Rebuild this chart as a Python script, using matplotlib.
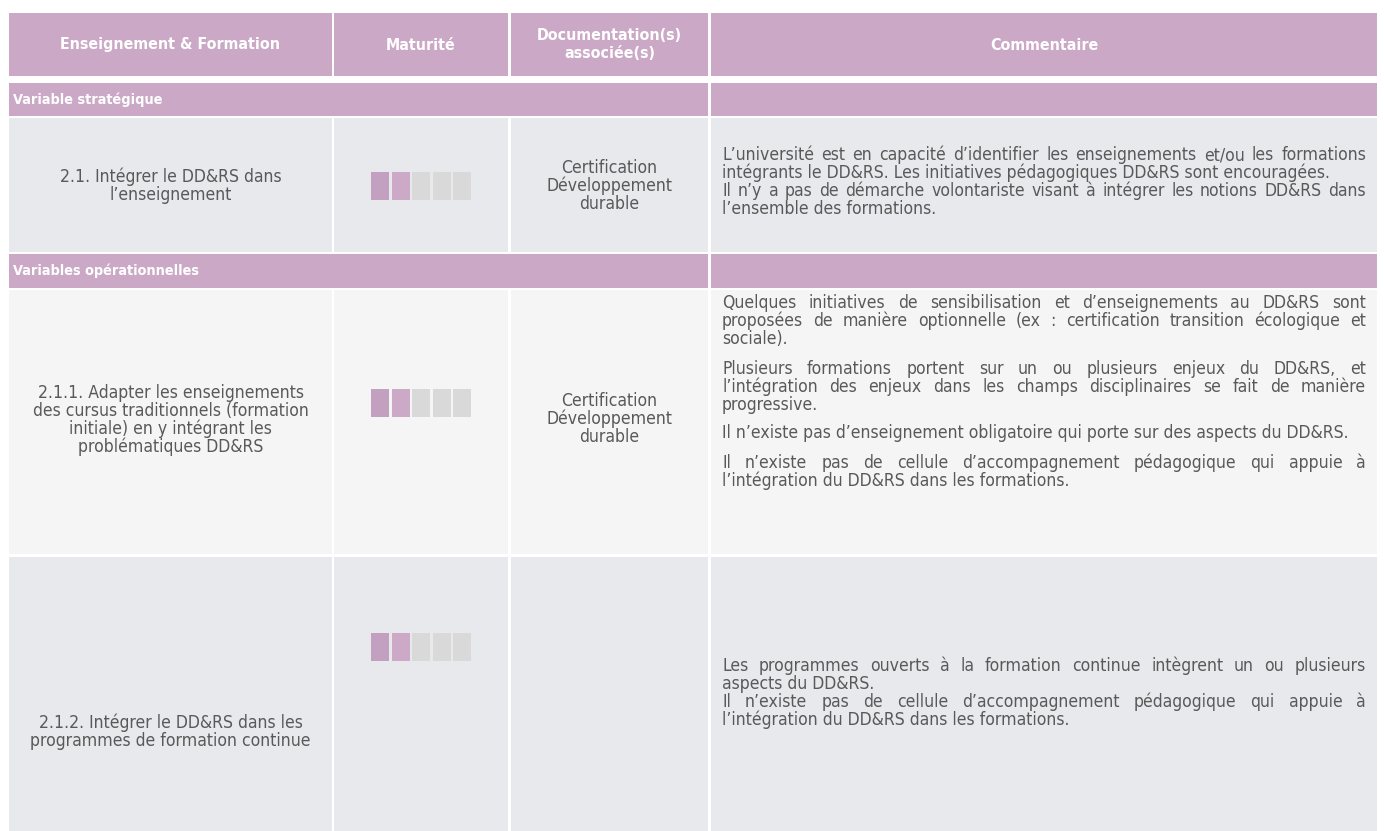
import matplotlib
matplotlib.use("Agg")
import matplotlib.pyplot as plt
from matplotlib.patches import Rectangle

# --- data ---
headers = ["Enseignement & Formation", "Maturité", "Documentation(s)\nassociée(s)", "Commentaire"]
sections = ["Variable stratégique", "Variables opérationnelles"]
criteria = [
    "2.1. Intégrer le DD&RS dans\nl’enseignement",
    "2.1.1. Adapter les enseignements\ndes cursus traditionnels (formation\ninitiale) en y intégrant les\nproblématiques DD&RS",
    "2.1.2. Intégrer le DD&RS dans les\nprogrammes de formation continue",
]
maturity = [2, 2, 2]
max_level = 5
docs = [
    "Certification\nDéveloppement\ndurable",
    "Certification\nDéveloppement\ndurable",
    "",
]
comments = [
    [["L’université est en capacité d’identifier les enseignements et/ou les formations",
      "intégrants le DD&RS. Les initiatives pédagogiques DD&RS sont encouragées."],
     ["Il n’y a pas de démarche volontariste visant à intégrer les notions DD&RS dans",
      "l’ensemble des formations."]],
    [["Quelques initiatives de sensibilisation et d’enseignements au DD&RS sont",
      "proposées de manière optionnelle (ex : certification transition écologique et",
      "sociale)."],
     ["Plusieurs formations portent sur un ou plusieurs enjeux du DD&RS, et",
      "l’intégration des enjeux dans les champs disciplinaires se fait de manière",
      "progressive."],
     ["Il n’existe pas d’enseignement obligatoire qui porte sur des aspects du DD&RS."],
     ["Il n’existe pas de cellule d’accompagnement pédagogique qui appuie à",
      "l’intégration du DD&RS dans les formations."]],
    [["Les programmes ouverts à la formation continue intègrent un ou plusieurs",
      "aspects du DD&RS."],
     ["Il n’existe pas de cellule d’accompagnement pédagogique qui appuie à",
      "l’intégration du DD&RS dans les formations."]],
]

# --- layout (pixels) ---
W, H = 1384, 831
cols = [(9, 332), (334, 508), (511, 708), (711, 1377)]
head_y = (13, 76)
sec_y = [(83, 116), (254, 288)]
row_y = [(118, 252), (290, 554), (557, 831)]
row_bg = ["#e8e9ed", "#f5f5f5", "#e8e9ed"]
sq_top = [172, 389, 633]
crit_center = [185, 419, 731]
doc_center = [185, 418, 0]
com_center = [181, 391, 692]
para_gap = [0, 11, 0]
purple = "#cba9c6"
txt = "#595959"
on_cols = ["#c4a0c0", "#cca9c6"]
off_col = "#d9d9d9"

FONT = "DejaVu Sans"
STRETCH = "condensed"
fs = 12.6
fs_head = 11.4
fs_sec = 10.4
lh = 18
base = 6

fig = plt.figure(figsize=(W / 100, H / 100), dpi=100)
ax = fig.add_axes([0, 0, 1, 1])
ax.set_xlim(0, W)
ax.set_ylim(H, 0)
ax.axis("off")


def cell(x0, x1, y0, y1, color):
    ax.add_patch(Rectangle((x0, y0), x1 - x0, y1 - y0, facecolor=color, edgecolor="none"))


def block(text, xc, yc, **kw):
    lines = text.split("\n")
    y = yc - (len(lines) - 1) * lh / 2
    for ln in lines:
        ax.text(xc, y + base, ln, ha="center", va="baseline", family=FONT,
                fontstretch=STRETCH, **kw)
        y += lh


# header
for (x0, x1), h in zip(cols, headers):
    cell(x0, x1, head_y[0], head_y[1], purple)
    block(h, (x0 + x1) / 2, sum(head_y) / 2 - 1, color="white", fontsize=fs_head,
          fontweight="bold")

# section rows
for (y0, y1), s in zip(sec_y, sections):
    cell(cols[0][0], cols[2][1], y0, y1, purple)
    cell(cols[3][0], cols[3][1], y0, y1, purple)
    ax.text(cols[0][0] + 4, (y0 + y1) / 2, s, ha="left", va="center", color="white",
            fontsize=fs_sec, fontweight="bold", family=FONT, fontstretch=STRETCH)

fig.canvas.draw()
renderer = fig.canvas.get_renderer()


def word_width(w):
    t = ax.text(0, 0, w, fontsize=fs, family=FONT, fontstretch=STRETCH)
    bb = t.get_window_extent(renderer)
    t.remove()
    return bb.width


def draw_line(line, x0, x1, y, justify):
    kw = dict(fontsize=fs, family=FONT, fontstretch=STRETCH, color=txt, va="baseline", ha="left")
    yb = y + base
    words = line.split(" ")
    if not justify or len(words) < 2:
        ax.text(x0, yb, line, **kw)
        return
    widths = [word_width(w) for w in words]
    gap = (x1 - x0 - sum(widths)) / (len(words) - 1)
    x = x0
    for w, ww in zip(words, widths):
        ax.text(x, yb, w, **kw)
        x += ww + gap


for i, (y0, y1) in enumerate(row_y):
    for x0, x1 in cols:
        cell(x0, x1, y0, y1, row_bg[i])
    block(criteria[i], (cols[0][0] + cols[0][1]) / 2, crit_center[i], color=txt, fontsize=fs)
    if docs[i]:
        block(docs[i], (cols[2][0] + cols[2][1]) / 2, doc_center[i], color=txt, fontsize=fs)
    # maturity squares
    colors = [on_cols[k] if k < maturity[i] else off_col for k in range(max_level)]
    lefts = [371 + k * 20.5 for k in range(max_level)]
    ax.bar(lefts, [28] * max_level, width=18, bottom=sq_top[i], align="edge",
           color=colors, edgecolor="none")
    # comments
    paras = comments[i]
    n_lines = sum(len(p) for p in paras)
    height = (n_lines - 1) * lh + (len(paras) - 1) * para_gap[i]
    y = com_center[i] - height / 2
    tx0, tx1 = cols[3][0] + 11, cols[3][1] - 11
    for p in paras:
        for j, line in enumerate(p):
            draw_line(line, tx0, tx1, y, j < len(p) - 1)
            y += lh
        y += para_gap[i]

fig.savefig("out.png", dpi=100)
